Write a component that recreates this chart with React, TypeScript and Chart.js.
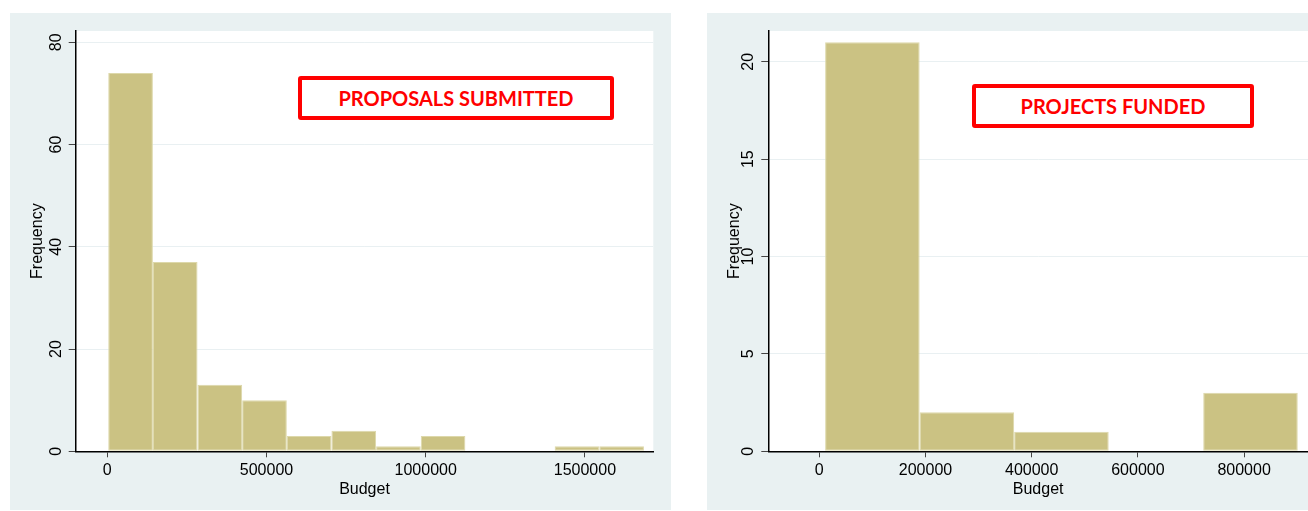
import React, { useEffect, useRef } from "react";
import { Chart, registerables } from "chart.js";

Chart.register(...registerables);

// ---- Data: proposals submitted (left panel) ----
const proposalBinEdges = [3000, 143200, 283400, 423600, 563800, 704000, 844200, 984400, 1124600, 1264800, 1405000, 1545200, 1685400];
const proposalCounts = [74, 37, 13, 10, 3, 4, 1, 3, 0, 0, 1, 1];
const proposalXTicks = [0, 500000, 1000000, 1500000];
const proposalYTicks = [0, 20, 40, 60, 80];

// ---- Data: projects funded (right panel) ----
const fundedBinEdges = [11000, 189000, 367000, 545000, 723000, 901000];
const fundedCounts = [21, 2, 1, 0, 3];
const fundedXTicks = [0, 200000, 400000, 600000, 800000];
const fundedYTicks = [0, 5, 10, 15, 20];

const xTitle = "Budget";
const yTitle = "Frequency";

const BAR = "#cbc283";
const BAR_EDGE = "#ddd8aa";
const PANEL_BG = "#e9f1f2";
const GRID = "#e9f0f2";
const TICK = "#444";
const FONT = '"Liberation Sans", Arial, sans-serif';

type Cfg = {
  edges: number[];
  counts: number[];
  xTicks: number[];
  yTicks: number[];
  left: number;
  top: number;
  width: number;
  height: number;
  yAxisWidth: number;
  padTop: number;
  padRight: number;
  xAxisHeight: number;
  xMin: number;
  xMax: number;
  yMax: number;
  label: string;
  box: { left: number; top: number; width: number; height: number };
};

const panels: Cfg[] = [
  {
    edges: proposalBinEdges,
    counts: proposalCounts,
    xTicks: proposalXTicks,
    yTicks: proposalYTicks,
    left: 10,
    top: 13,
    width: 661,
    height: 497,
    yAxisWidth: 65.7,
    padTop: 18,
    padRight: 17.7,
    xAxisHeight: 58.7,
    xMin: -99200,
    xMax: 1714800,
    yMax: 82.2,
    label: "PROPOSALS SUBMITTED",
    box: { left: 298, top: 76, width: 316, height: 44 },
  },
  {
    edges: fundedBinEdges,
    counts: fundedCounts,
    xTicks: fundedXTicks,
    yTicks: fundedYTicks,
    left: 707,
    top: 13,
    width: 601,
    height: 497,
    yAxisWidth: 61.3,
    padTop: 18,
    padRight: 0,
    xAxisHeight: 58.7,
    xMin: -96000,
    xMax: 920300,
    yMax: 21.58,
    label: "PROJECTS FUNDED",
    box: { left: 972, top: 84, width: 282, height: 44 },
  },
];

const plotBg = {
  id: "plotBg",
  beforeDraw(chart: any) {
    const { ctx, chartArea: a } = chart;
    ctx.save();
    ctx.fillStyle = "#ffffff";
    ctx.fillRect(a.left, a.top, a.right - a.left, a.bottom - a.top);
    ctx.restore();
  },
};

function makeYLabels(ticks: number[]) {
  return {
    id: "yLabels",
    afterDraw(chart: any) {
      const s = chart.scales.y;
      const ctx = chart.ctx;
      ctx.save();
      ctx.font = `16px ${FONT}`;
      ctx.fillStyle = "#000";
      ctx.textAlign = "center";
      ctx.textBaseline = "middle";
      for (const v of ticks) {
        const y = s.getPixelForValue(v);
        ctx.save();
        ctx.translate(s.right - 19.5, y);
        ctx.rotate(-Math.PI / 2);
        ctx.fillText(String(v), 0, 0);
        ctx.restore();
      }
      ctx.restore();
    },
  };
}

function Histogram({ cfg }: { cfg: Cfg }) {
  const ref = useRef<HTMLCanvasElement>(null);
  useEffect(() => {
    const centers = cfg.counts.map((_, i) => (cfg.edges[i] + cfg.edges[i + 1]) / 2);
    const data = cfg.counts.map((c, i) => ({ x: centers[i], y: c === 0 ? null : c }));
    const chart = new Chart(ref.current as HTMLCanvasElement, {
      type: "bar",
      data: {
        datasets: [
          {
            data: data as any,
            backgroundColor: BAR,
            borderColor: BAR_EDGE,
            borderWidth: 1,
            borderSkipped: false,
            barPercentage: 1,
            categoryPercentage: 1,
            inflateAmount: 0,
          } as any,
        ],
      },
      options: {
        responsive: false,
        animation: false,
        devicePixelRatio: 1,
        layout: { padding: { left: 0, top: cfg.padTop, right: cfg.padRight, bottom: 0 } },
        plugins: {
          legend: { display: false },
          tooltip: { enabled: false },
        },
        scales: {
          x: {
            type: "linear",
            min: cfg.xMin,
            max: cfg.xMax,
            offset: false,
            afterBuildTicks: (s: any) => {
              s.ticks = cfg.xTicks.map((v) => ({ value: v }));
            },
            afterFit: (s: any) => {
              s.height = cfg.xAxisHeight;
            },
            grid: {
              offset: false,
              drawOnChartArea: false,
              drawTicks: true,
              tickLength: 6,
              tickColor: TICK,
              tickWidth: 1,
            },
            border: { display: true, color: "#000", width: 1.5 },
            ticks: {
              autoSkip: false,
              maxRotation: 0,
              minRotation: 0,
              padding: 4,
              color: "#000",
              font: { family: FONT, size: 16 },
              callback: (v: any) => String(v),
            },
            title: {
              display: true,
              text: xTitle,
              color: "#000",
              font: { family: FONT, size: 16 },
              padding: { top: 0, bottom: 10.4 },
            },
          } as any,
          y: {
            type: "linear",
            min: 0,
            max: cfg.yMax,
            afterBuildTicks: (s: any) => {
              s.ticks = cfg.yTicks.map((v) => ({ value: v }));
            },
            afterFit: (s: any) => {
              s.width = cfg.yAxisWidth;
            },
            grid: {
              color: GRID,
              lineWidth: 1,
              drawTicks: true,
              tickLength: 7,
              tickColor: TICK,
              tickWidth: 1,
            },
            border: { display: true, color: "#000", width: 1.5 },
            ticks: { display: false },
            title: {
              display: true,
              text: yTitle,
              color: "#000",
              font: { family: FONT, size: 16 },
              padding: { top: 17.9, bottom: 0 },
            },
          } as any,
        },
      },
      plugins: [plotBg, makeYLabels(cfg.yTicks)],
    });
    return () => chart.destroy();
  }, []);

  return (
    <div
      style={{
        position: "absolute",
        left: cfg.left,
        top: cfg.top,
        width: cfg.width,
        height: cfg.height,
        background: PANEL_BG,
      }}
    >
      <canvas ref={ref} width={cfg.width} height={cfg.height} style={{ display: "block" }} />
    </div>
  );
}

export default function App() {
  return (
    <div
      style={{
        position: "absolute",
        left: 0,
        top: 0,
        width: 1308,
        height: 511,
        background: "#ffffff",
        overflow: "hidden",
      }}
    >
      {panels.map((p, i) => (
        <Histogram key={i} cfg={p} />
      ))}
      {panels.map((p, i) => (
        <div
          key={"b" + i}
          style={{
            position: "absolute",
            left: p.box.left,
            top: p.box.top,
            width: p.box.width,
            height: p.box.height,
            boxSizing: "border-box",
            border: "4px solid #ff0000",
            borderRadius: 3,
            background: "#ffffff",
            display: "flex",
            alignItems: "center",
            justifyContent: "center",
            color: "#ff0000",
            fontFamily: "Lato, 'Open Sans', sans-serif",
            fontWeight: 700,
            fontSize: 20,
            whiteSpace: "nowrap",
          }}
        >
          {p.label}
        </div>
      ))}
    </div>
  );
}
